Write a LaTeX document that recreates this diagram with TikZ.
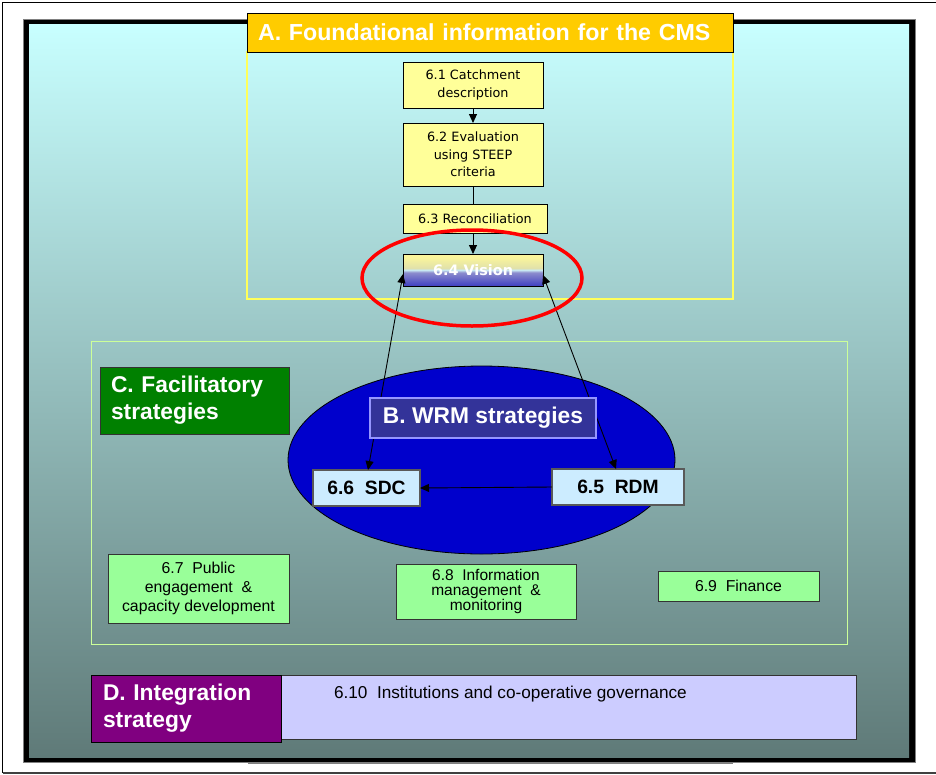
\documentclass[tikz,border=0pt]{standalone}
\usepackage{fontspec}
\setmainfont{Liberation Sans}
\newfontfamily\tah{DejaVu Sans}
\usetikzlibrary{arrows.meta,shapes.geometric}
\definecolor{cyantop}{RGB}{200,255,255}
\definecolor{tealbot}{RGB}{95,122,120}
\definecolor{boxyel}{RGB}{255,255,153}
\definecolor{frameyel}{RGB}{255,255,90}
\definecolor{titleorange}{RGB}{255,204,0}
\definecolor{wrmblue}{RGB}{0,0,204}
\definecolor{wrmtitle}{RGB}{51,51,153}
\definecolor{wrmedge}{RGB}{150,150,255}
\definecolor{lightblue}{RGB}{204,236,255}
\definecolor{facgreen}{RGB}{0,128,0}
\definecolor{framegreen}{RGB}{204,255,153}
\definecolor{boxgreen}{RGB}{153,255,153}
\definecolor{intpurple}{RGB}{128,0,128}
\definecolor{lavender}{RGB}{204,204,255}
\definecolor{vblue}{RGB}{0,0,200}
\definecolor{vmid}{RGB}{45,45,190}
\definecolor{vlav}{RGB}{140,140,205}
\definecolor{vline}{RGB}{200,232,242}
\definecolor{vgrey}{RGB}{225,225,170}
\definecolor{vyel}{RGB}{250,245,155}
\pgfdeclareverticalshading{visionsh}{100bp}{color(0bp)=(vblue); color(20bp)=(vmid); color(46bp)=(vlav); color(50bp)=(vline); color(53bp)=(vgrey); color(70bp)=(vyel); color(100bp)=(vyel)}
\begin{document}
\begin{tikzpicture}[x=1pt,y=-1pt,
  every node/.style={outer sep=0pt, inner sep=0pt},
  ybox/.style={draw=black, line width=1pt, fill=boxyel, align=center,
    font=\tah\fontsize{12.8}{17.5}\selectfont},
  gbox/.style={draw=black!80, line width=1pt, fill=boxgreen, align=center,
    font=\fontsize{15.8}{19}\selectfont},
  sbox/.style={draw=gray!70!black, line width=1.6pt, fill=lightblue, align=center,
    font=\bfseries\fontsize{19.3}{20}\selectfont},
  ttl/.style={text=white, font=\bfseries\fontsize{22.8}{27}\selectfont},
  conn/.style={draw=black, line width=0.9pt},
  tip/.tip={Triangle[length=9pt,width=8pt]},
  arr/.style={conn, -tip},
  darr/.style={conn, tip-tip}
]
\useasboundingbox (0,0) rectangle (936,774);
\fill[white] (0,0) rectangle (936,774);
% outer frame
\draw[black, line width=1.8pt] (936,2.5) -- (2.5,2.5) -- (2.5,773);
\draw[black!75, line width=1.5pt] (2.5,773) -- (936,773);
% panel
\filldraw[fill=black, draw=gray, line width=1pt] (23,19) rectangle (915.5,762.5);
\shade[top color=cyantop, bottom color=tealbot] (29,24) rectangle (909,757);
\draw[gray, line width=1.2pt] (248,763.8) -- (733,763.8);
% frames
\draw[frameyel, line width=1.2pt] (247,52) rectangle (733,299);
\draw[framegreen, line width=1pt] (91,341) rectangle (847,644);
% title A
\node[ttl, draw=black, line width=1pt, fill=titleorange, minimum width=486pt, minimum height=39pt,
  text width=464pt, align=left, font=\bfseries\fontsize{23.2}{27}\selectfont] (A) at (490,32.5) {A. Foundational information for the CMS};
% foundational boxes
\node[ybox, minimum width=140pt, minimum height=46pt] (c1) at (473,85) {6.1 Catchment\\description};
\node[ybox, minimum width=140pt, minimum height=63pt] (c2) at (473,154.5) {6.2 Evaluation\\using STEEP\\criteria};
\node[ybox, minimum width=144pt, minimum height=29pt] (c3) at (475,218.5) {6.3 Reconciliation};
\node[draw=black, line width=1pt, shading=visionsh, minimum width=140pt, minimum height=32pt,
  text=white, font=\tah\bfseries\fontsize{14.4}{16}\selectfont] (v) at (473,270) {6.4 Vision};
\draw[arr] (c1.south) -- (c2.north);
\draw[conn] (c2.south) -- (c2.south |- c3.north);
\draw[arr] (c3.south -| v.north) -- (v.north);
% C facilitatory
\node[ttl, draw=black!80, line width=1pt, fill=facgreen, minimum width=189pt, minimum height=67pt,
  text width=167pt, align=left] (C) at (194.5,400.5) {C. Facilitatory\\strategies};
% B ellipse
\draw[draw=black, line width=0.8pt, fill=wrmblue] (481.5,460) ellipse [x radius=193.5pt, y radius=94pt];
\node[sbox, minimum width=107pt, minimum height=36pt] (sdc) at (366.5,488) {6.6~~SDC};
\node[sbox, minimum width=132pt, minimum height=36pt] (rdm) at (618,487) {6.5~~RDM};
\draw[darr] ([yshift=-4pt]v.west) -- ([xshift=1.5pt]sdc.north);
\draw[darr] ([yshift=-5pt]v.east) -- ([xshift=-2pt]rdm.north);
\draw[arr] (rdm.west) -- (sdc.east);
\node[draw=wrmedge, line width=1.5pt, fill=wrmtitle, minimum width=226pt, minimum height=40pt,
  text=white, font=\bfseries\fontsize{22.8}{27}\selectfont] (B) at (483,418) {B. WRM strategies};
% green boxes
\node[gbox, minimum width=181pt, minimum height=69pt] (p7) at (198.5,588.5) {6.7~~Public\\engagement~~\&\\capacity development};
\node[gbox, minimum width=180pt, minimum height=55pt, font=\fontsize{15.5}{14.6}\selectfont] (p8) at (486,591.5) {6.8~~Information\\management~~\&\\monitoring};
\node[gbox, minimum width=161pt, minimum height=30pt] (p9) at (738.5,586) {6.9~~Finance};
% D integration
\node[draw=black!80, line width=1pt, fill=lavender, minimum width=575pt, minimum height=64pt] (inst) at (568.5,707) {};
\node[anchor=base west, font=\fontsize{17.2}{19}\selectfont] (instt) at (334,698) {6.10~~Institutions and co-operative governance};
\node[ttl, draw=black, line width=1pt, fill=intpurple, minimum width=190pt, minimum height=67pt,
  text width=166pt, align=left] (D) at (186,708.5) {D. Integration\\strategy};
% red ellipse
\draw[red, line width=3.5pt] (472,278) ellipse [x radius=110pt, y radius=48pt];
\end{tikzpicture}
\end{document}
